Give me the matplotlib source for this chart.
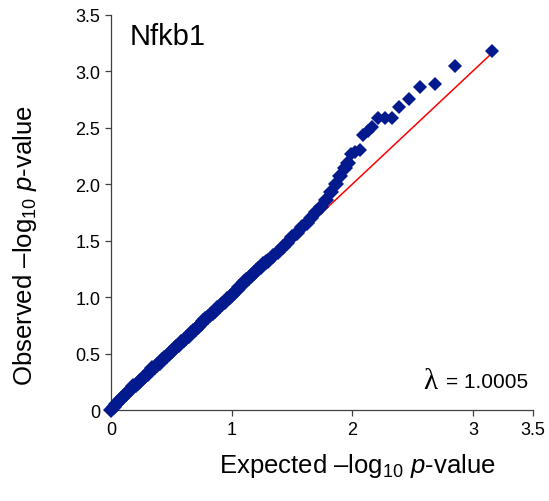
import matplotlib
matplotlib.use("Agg")
import matplotlib.pyplot as plt

# QQ plot of association p-values for Nfkb1
gene = "Nfkb1"
lambda_gc = "1.0005"

# expected vs observed -log10 p, dense body of the distribution
expected_body = [
    0.00, 0.02, 0.04, 0.06, 0.08, 0.10, 0.12, 0.14, 0.16, 0.18,
    0.20, 0.22, 0.24, 0.26, 0.28, 0.30, 0.32, 0.34, 0.36, 0.38,
    0.40, 0.42, 0.44, 0.46, 0.48, 0.50, 0.52, 0.54, 0.56, 0.58,
    0.60, 0.62, 0.64, 0.66, 0.68, 0.70, 0.72, 0.74, 0.76, 0.78,
    0.80, 0.82, 0.84, 0.86, 0.88, 0.90, 0.92, 0.94, 0.96, 0.98,
    1.00, 1.02, 1.04, 1.06, 1.08, 1.10, 1.12, 1.14, 1.16, 1.18,
    1.20, 1.22, 1.24, 1.26, 1.28,
    1.30, 1.34, 1.38, 1.42, 1.46, 1.50, 1.54, 1.58, 1.62, 1.66,
    1.70, 1.74, 1.78, 1.82, 1.86, 1.90, 1.94, 1.96,
]
observed_body = [
    0.00, 0.03, 0.05, 0.08, 0.10, 0.12, 0.14, 0.16, 0.19, 0.21,
    0.22, 0.24, 0.26, 0.28, 0.30, 0.32, 0.35, 0.37, 0.38, 0.40,
    0.42, 0.44, 0.46, 0.48, 0.50, 0.52, 0.54, 0.56, 0.58, 0.60,
    0.62, 0.64, 0.66, 0.68, 0.70, 0.72, 0.74, 0.76, 0.79, 0.81,
    0.82, 0.84, 0.86, 0.88, 0.90, 0.92, 0.94, 0.96, 0.98, 1.00,
    1.02, 1.04, 1.06, 1.09, 1.11, 1.13, 1.15, 1.17, 1.19, 1.21,
    1.23, 1.25, 1.27, 1.29, 1.31,
    1.32, 1.36, 1.40, 1.44, 1.48, 1.53, 1.57, 1.62, 1.66, 1.70,
    1.75, 1.80, 1.86, 1.93, 2.00, 2.07, 2.14, 2.19,
]

# sparse upper tail
expected_tail = [1.992, 2.019, 2.061, 2.092, 2.131, 2.167, 2.215, 2.270,
                 2.326, 2.391, 2.469, 2.563, 2.689, 2.856, 3.157]
observed_tail = [2.265, 2.281, 2.301, 2.434, 2.472, 2.502, 2.581, 2.585,
                 2.581, 2.681, 2.750, 2.861, 2.882, 3.047, 3.177]

expected = expected_body + expected_tail

x_ticks = [0, 1, 2, 3, 3.5]
y_ticks = [0, 0.5, 1.0, 1.5, 2.0, 2.5, 3.0, 3.5]
y_tick_labels = ["0", "0.5", "1.0", "1.5", "2.0", "2.5", "3.0", "3.5"]

plt.rcParams['font.family'] = ['Liberation Sans', 'DejaVu Sans']
plt.rcParams['mathtext.fontset'] = 'custom'
plt.rcParams['mathtext.rm'] = 'Liberation Sans'
plt.rcParams['mathtext.it'] = 'Liberation Sans:italic'

fig = plt.figure(figsize=(5.49, 5.02), dpi=100)
ax = fig.add_axes([0.203, 0.181, 0.768, 0.788])

blue = '#03198E'
# null line
ax.plot(expected, expected, color='#FF0000', lw=1.1, zorder=2)
ax.plot(expected_body, observed_body, linestyle='none', marker='D',
        markersize=8.2, color=blue, markeredgewidth=0, zorder=3, clip_on=False)
ax.plot(expected_tail, observed_tail, linestyle='none', marker='D',
        markersize=7.0, color=blue, markeredgewidth=0, zorder=3, clip_on=False)

ax.set_xlim(0, 3.5)
ax.set_ylim(0, 3.5)
ax.set_xticks(x_ticks)
ax.set_xticklabels([f"{t:g}" for t in x_ticks])
ax.set_yticks(y_ticks)
ax.set_yticklabels(y_tick_labels)

for side in ('top', 'right'):
    ax.spines[side].set_visible(False)
for side in ('left', 'bottom'):
    ax.spines[side].set_color('#404040')
    ax.spines[side].set_linewidth(0.9)
ax.tick_params(direction='out', length=4, width=0.9, color='#404040',
               labelsize=13, pad=4)

ax.text(0.15, 3.31, gene, fontsize=21, ha='left', va='center')
lam = ax.text(3.456, 0.25, "= " + lambda_gc, fontsize=15, ha='right',
              va='center')
fig.canvas.draw()
bb = lam.get_window_extent()
ax.annotate("\u03bb", xy=(bb.x0 - 8, (bb.y0 + bb.y1) / 2 + 1),
            xycoords='figure pixels', fontsize=21, ha='right', va='center',
            family=['Liberation Serif', 'DejaVu Serif'])

fig.text(0.650, 0.072, "Expected \u2013log$_{10}$ $p$-value", fontsize=18.5,
         ha='center', va='center')
fig.text(0.046, 0.51, "Observed \u2013log$_{10}$ $p$-value", fontsize=18.5,
         ha='center', va='center', rotation=90)

fig.savefig('out.png', dpi=100, facecolor='white')
